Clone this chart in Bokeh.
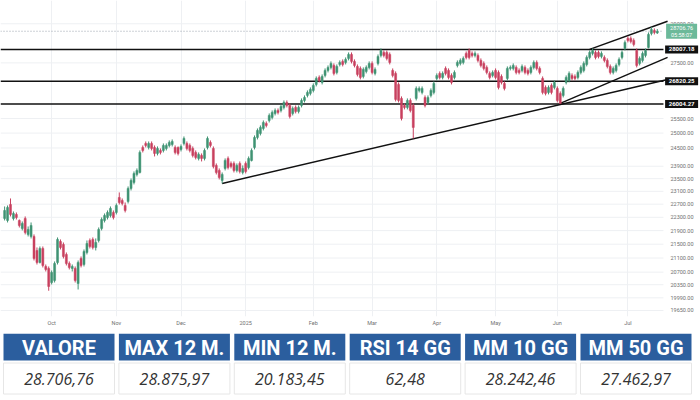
from bokeh.plotting import figure
from bokeh.models import Range1d, FixedTicker, ColumnDataSource
from bokeh.layouts import column
from bokeh.core.properties import value
from bokeh.embed import file_html
from bokeh.resources import INLINE

# ---------------- data ----------------
opens = [
    22264, 22204, 22692, 22264, 22386, 22204, 21965, 22264, 21787, 21727,
    21727, 21318, 20973, 21376, 20860, 20803, 20411, 20467, 20973, 21580,
    21492, 21203, 20945, 20803, 20803, 20384, 21088, 20916, 21260, 21609,
    21639, 21405, 21609, 21965, 22204, 22295, 22355, 22447, 22447, 22908,
    22815, 22661, 22784, 23190, 23380, 23635, 23700, 24518, 24651, 24518,
    24651, 24518, 24319, 24418, 24418, 24484, 24584, 24618, 24518, 24518,
    24451, 24651, 24651, 24584, 24484, 24352, 24155, 24253, 24155, 24518,
    24685, 24484, 23926, 23764, 23443, 23829, 24155, 23991, 23991, 23764,
    23991, 23700, 23991, 23861, 24089, 24518, 24853, 24988, 25158, 25330,
    25433, 25537, 25676, 25781, 25781, 25886, 26062, 25956, 25676, 25886,
    25746, 25956, 26133, 26312, 26384, 26491, 26707, 26963, 26780, 27036,
    27220, 27331, 27405, 27146, 27442, 27555, 27517, 27667, 27818, 27555,
    27368, 27294, 26999, 27183, 27331, 27480, 27110, 27480, 27780, 27893,
    27893, 27818, 27220, 27110, 26707, 26205, 25956, 25886, 26133, 25956,
    26205, 26491, 26419, 26240, 26062, 26312, 26419, 26926, 27110, 26963,
    27294, 27220, 27036, 26963, 27405, 27480, 27517, 27856, 27969, 27856,
    27780, 27780, 27592, 27480, 27331, 27110, 27036, 27220, 27146, 26999,
    26744, 26926, 27294, 27294, 27331, 27220, 27220, 27331, 27220, 27146,
    27331, 27517, 27294, 26926, 26599, 26419, 26671, 26599, 26563, 26384,
    26312, 26780, 26853, 27036, 26999, 26963, 27146, 27220, 27442, 27705,
    27856, 27893, 27893, 27742, 27705, 27592, 27368, 27146, 27220, 27442,
    27705, 28045, 28429, 28429, 28352, 27969, 27480, 27592, 27780, 28083,
    28622, 28738, 28640,
]
highs = [
    22630, 22661, 22877, 22477, 22447, 22234, 22174, 22325, 22024, 22144,
    21787, 21405, 21434, 21434, 20916, 20860, 20747, 21002, 21698, 21639,
    21550, 21260, 21002, 20916, 20860, 21030, 21145, 21347, 21609, 21668,
    21698, 21668, 21994, 22295, 22416, 22508, 22630, 22508, 22723, 23065,
    22877, 22753, 23253, 23507, 23732, 23829, 24418, 24584, 24718, 24718,
    24718, 24584, 24551, 24484, 24651, 24651, 24752, 24786, 24584, 24551,
    24618, 24886, 24718, 24651, 24551, 24418, 24352, 24319, 24484, 24886,
    24752, 24551, 23991, 23829, 23700, 24155, 24220, 24056, 24056, 23991,
    24056, 23926, 24056, 24220, 24484, 24920, 25158, 25261, 25433, 25399,
    25676, 25781, 25851, 25851, 25991, 26133, 26133, 26027, 25921, 25956,
    25956, 26205, 26312, 26491, 26599, 26744, 26999, 27036, 27073, 27294,
    27405, 27555, 27480, 27442, 27592, 27630, 27705, 27893, 27893, 27630,
    27442, 27368, 27331, 27405, 27555, 27555, 27331, 27818, 28045, 27969,
    27969, 27893, 27294, 27183, 26780, 26276, 26027, 26205, 26205, 26027,
    26635, 26635, 26635, 26312, 26312, 26563, 26817, 27110, 27183, 27183,
    27368, 27294, 27110, 27220, 27592, 27667, 27742, 27931, 28045, 27931,
    27931, 27856, 27667, 27555, 27405, 27183, 27220, 27294, 27220, 27073,
    26817, 27368, 27405, 27480, 27405, 27294, 27442, 27405, 27294, 27405,
    27592, 27592, 27368, 26999, 26671, 26671, 26744, 26853, 26635, 26455,
    26635, 27036, 27183, 27110, 27073, 27220, 27405, 27555, 27780, 27969,
    28045, 27969, 27969, 27931, 27780, 27667, 27442, 27368, 27480, 27705,
    27969, 28352, 28506, 28506, 28429, 28045, 27742, 27931, 28045, 28661,
    28875.97, 28817, 28790,
]
lows = [
    22204, 22144, 22325, 22204, 22234, 21994, 21905, 21787, 21727, 21668,
    21030, 20916, 20945, 20832, 20719, 20183.45, 20356, 20411, 20916, 21347,
    21088, 20888, 20775, 20719, 20411, 20218, 20832, 20860, 21203, 21376,
    21347, 21318, 21550, 21905, 22144, 22234, 22295, 22234, 22386, 22692,
    22661, 22447, 22723, 23127, 23317, 23571, 23667, 24352, 24518, 24451,
    24418, 24220, 24253, 24286, 24352, 24418, 24518, 24551, 24286, 24253,
    24385, 24584, 24418, 24352, 24187, 24122, 24089, 24056, 24089, 24451,
    24518, 23829, 23635, 23475, 23348, 23764, 23796, 23829, 23700, 23700,
    23667, 23635, 23667, 23796, 24056, 24451, 24786, 24920, 25090, 25193,
    25364, 25468, 25606, 25641, 25711, 25816, 25886, 25502, 25606, 25676,
    25676, 25886, 26062, 26240, 26312, 26419, 26635, 26780, 26707, 26963,
    27146, 27257, 27036, 27073, 27368, 27368, 27442, 27592, 27480, 27331,
    26999, 26890, 26926, 27110, 27257, 27073, 27036, 27405, 27705, 27705,
    27592, 27442, 26963, 26098, 26062, 25433, 25816, 25816, 25711, 24819,
    26133, 26419, 26348, 25886, 25991, 26240, 26348, 26853, 26890, 26890,
    27036, 26890, 26707, 26890, 27331, 27405, 27442, 27630, 27630, 27705,
    27705, 27517, 27331, 27220, 27073, 26890, 26963, 26890, 26527, 26707,
    26491, 26853, 27220, 27220, 27073, 27073, 27146, 27073, 27036, 27073,
    27257, 27220, 27073, 26348, 26312, 26348, 26348, 26527, 26062, 26027,
    26240, 26707, 26780, 26853, 26853, 26890, 27073, 27146, 27368, 27630,
    27780, 27630, 27667, 27667, 27517, 27294, 27073, 27073, 27146, 27368,
    27630, 27969, 28275, 28236, 28121, 27331, 27405, 27517, 27705, 28045,
    28545, 28584, 28600,
]
closes = [
    22508, 22600, 22386, 22416, 22295, 22054, 22114, 21846, 21935, 22054,
    21088, 20973, 21376, 20888, 20775, 20301, 20691, 20945, 21639, 21405,
    21145, 20945, 20832, 20860, 20467, 20973, 20888, 21289, 21521, 21434,
    21405, 21550, 21935, 22234, 22355, 22447, 22569, 22295, 22661, 22753,
    22723, 22508, 23190, 23443, 23667, 23764, 24352, 24418, 24584, 24651,
    24484, 24319, 24484, 24352, 24584, 24584, 24685, 24718, 24352, 24319,
    24551, 24819, 24484, 24418, 24253, 24187, 24286, 24155, 24418, 24819,
    24584, 23894, 23700, 23539, 23635, 24089, 23861, 23894, 23764, 23926,
    23732, 23829, 23732, 24155, 24418, 24853, 25090, 25193, 25364, 25261,
    25606, 25711, 25781, 25711, 25921, 26062, 25956, 25571, 25851, 25746,
    25886, 26133, 26240, 26419, 26527, 26671, 26926, 26853, 26999, 27220,
    27331, 27480, 27110, 27368, 27517, 27442, 27630, 27818, 27555, 27405,
    27073, 26963, 27257, 27331, 27480, 27146, 27257, 27742, 27969, 27780,
    27667, 27517, 27036, 26169, 26133, 25502, 25886, 26133, 25781, 25193,
    26563, 26563, 26563, 25956, 26240, 26491, 26744, 27036, 26963, 27110,
    27110, 26963, 26780, 27146, 27517, 27592, 27667, 27705, 27705, 27780,
    27856, 27592, 27405, 27294, 27146, 26963, 27146, 26963, 26599, 26780,
    26563, 27294, 27331, 27405, 27146, 27146, 27368, 27146, 27110, 27331,
    27517, 27294, 27146, 26419, 26384, 26599, 26419, 26780, 26133, 26027,
    26563, 26963, 27110, 26926, 26926, 27146, 27331, 27480, 27705, 27893,
    27969, 27705, 27742, 27856, 27592, 27368, 27146, 27294, 27405, 27630,
    27893, 28275, 28352, 28313, 28198, 27405, 27667, 27856, 27969, 28584,
    28777, 28661, 28706.76,
]

month_labels = ["Oct", "Nov", "Dec", "2025", "Feb", "Mar", "Apr", "May", "Jun", "Jul"]
month_starts = [16, 38, 60, 82, 105, 125, 147, 167, 188, 212]
y_ticks = [19650, 19990, 20350, 20700, 21100, 21500, 21900, 22300, 22700, 23100,
           23500, 23900, 24500, 25000, 25500, 27500, 29000]

levels = [28007.18, 26820.25, 26004.27]
last_price = 28706.76
countdown = "05:58:07"

trend_x0 = [74, 189, 199]
trend_p0 = [23348, 26027, 28007]
trend_x1 = [225.5, 225.5, 225.5]
trend_p1 = [26890, 27705, 29100]

headers = ["VALORE", "MAX 12 M.", "MIN 12 M.", "RSI 14 GG", "MM 10 GG", "MM 50 GG"]
table_values = ["28.706,76", "28.875,97", "20.183,45", "62,48", "28.242,46", "27.462,97"]

# ---------------- styles ----------------
UP = "#3f9373"
DOWN = "#c8405f"
BLUE = "#2b5e9e"
AXIS_FONT = "Roboto"
GRID = "#eef0f3"

X_START, X_END = -1.4, 224.1      # price area (candles)
SCALE_END = 236.7                  # right edge incl. price scale strip
label_x = X_END + (SCALE_END - X_END) * 0.49

idx = list(range(len(closes)))
colors = [UP if c >= o else DOWN for o, c in zip(opens, closes)]
src = ColumnDataSource(dict(
    x=idx, o=opens, h=highs, l=lows, c=closes,
    top=[max(o, c) for o, c in zip(opens, closes)],
    bot=[min(o, c) for o, c in zip(opens, closes)],
    color=colors,
))

p = figure(width=700, height=333, y_axis_type="log", y_axis_location=None,
           x_range=Range1d(X_START, SCALE_END), y_range=Range1d(19490, 29930),
           output_backend="svg", toolbar_location=None,
           min_border_left=0, min_border_top=0, min_border_right=0, min_border_bottom=17)
p.outline_line_color = None
p.background_fill_color = "white"

# grid: vertical month lines via the grid, horizontal ones only over the price area
p.xgrid.ticker = FixedTicker(ticks=month_starts)
p.xgrid.grid_line_color = GRID
p.ygrid.visible = False
p.segment(x0=X_START, x1=X_END, y0=y_ticks, y1=y_ticks, line_color=GRID, line_width=1)

# x axis (months)
ax = p.xaxis
ax.axis_line_color = None
ax.major_tick_line_color = None
ax.minor_tick_line_color = None
ax.major_tick_out = 0
ax.major_label_text_font = AXIS_FONT
ax.major_label_text_font_size = "5.5px"
ax.major_label_text_color = "#707070"
ax.ticker = FixedTicker(ticks=month_starts)
ax.major_label_overrides = {m: lab for m, lab in zip(month_starts, month_labels)}
ax.major_label_standoff = 3

# price scale tick labels
p.text(x=X_END, y=y_ticks, text=[f"{v:.2f}" for v in y_ticks], x_offset=7,
       text_align="left", text_baseline="middle", text_font=value(AXIS_FONT),
       text_font_size="5.5px", text_color="#707070")

# current price dotted line
p.segment(x0=X_START, x1=X_END, y0=last_price, y1=last_price, line_color="#9aa3ad",
          line_dash="1 2", line_width=1)

# horizontal support / resistance levels
p.segment(x0=X_START, x1=X_END, y0=levels, y1=levels, line_color="#111111", line_width=1.5)

# trend lines
p.segment(x0=trend_x0, y0=trend_p0, x1=trend_x1, y1=trend_p1,
          line_color="#111111", line_width=1.5)

# candles
p.segment(x0="x", y0="l", x1="x", y1="h", line_color="color", line_width=1, source=src)
p.vbar(x="x", top="top", bottom="bot", width=0.68, fill_color="color",
       line_color="color", line_width=0.5, source=src)

# level labels on the price scale
p.rect(x=label_x, y=levels, width=33, height=8, width_units="screen", height_units="screen",
       fill_color="#111111", line_color=None)
p.text(x=label_x, y=levels, text=[f"{lv:.2f}" for lv in levels], text_align="center",
       text_baseline="middle", text_font=value(AXIS_FONT), text_font_size="6px",
       text_font_style="bold", text_color="white")

# current price label
p.rect(x=label_x, y=last_price, width=31, height=15, width_units="screen", height_units="screen",
       fill_color="#6cb99a", line_color=None)
p.text(x=label_x, y=last_price, text=[f"{last_price:.2f}"], y_offset=-3.5, text_align="center",
       text_baseline="middle", text_font=value(AXIS_FONT), text_font_size="5.5px",
       text_color="white")
p.text(x=label_x, y=last_price, text=[countdown], y_offset=3.5, text_align="center",
       text_baseline="middle", text_font=value(AXIS_FONT), text_font_size="5.5px",
       text_color="white")

# ---------------- table ----------------
t = figure(width=700, height=67, x_range=Range1d(-0.507, 5.559), y_range=Range1d(67, 0),
           output_backend="svg", toolbar_location=None,
           min_border_left=0, min_border_right=0, min_border_top=0, min_border_bottom=0)
t.axis.visible = False
t.grid.visible = False
t.outline_line_color = None

cols = list(range(len(headers)))
t.rect(x=cols, y=13.5, width=0.962, height=27, fill_color=BLUE, line_color=None)
t.rect(x=cols, y=45, width=0.962, height=31, fill_color="white", line_color="#e6e6e6")
t.text(x=cols, y=14, text=headers, text_align="center", text_baseline="middle",
       text_font=value("Roboto"), text_font_style="bold", text_font_size="20px",
       text_color="white")
t.text(x=cols, y=45, text=table_values, text_align="center", text_baseline="middle",
       text_font=value("Open Sans"), text_font_style="italic", text_font_size="16px",
       text_color="#333333")

layout = column(p, t)
open("out.html", "w").write(file_html(layout, INLINE))
